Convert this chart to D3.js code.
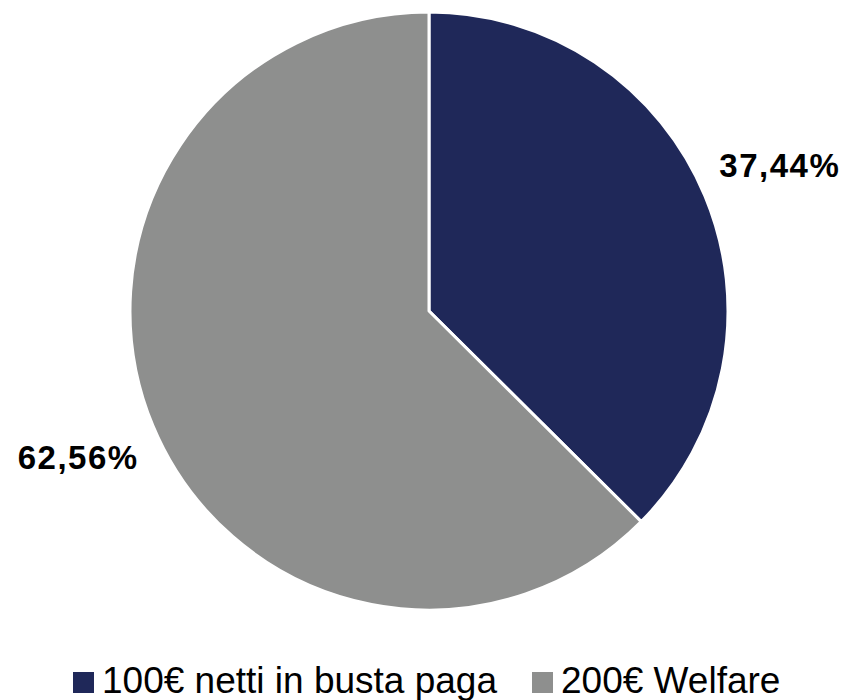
<!DOCTYPE html>
<html>
<head>
<meta charset="utf-8">
<script src="https://cdn.jsdelivr.net/npm/d3@7"></script>
<style>
  body { margin: 0; background: #fff; }
  text { font-family: "Liberation Sans", Arial, sans-serif; }
</style>
</head>
<body>
<svg id="vis" width="846" height="700"></svg>
<script>
const categories = ["100€ netti in busta paga", "200€ Welfare"];
const values = [37.44, 62.56];
const labels = ["37,44%", "62,56%"];
const colors = ["#1f2859", "#8e8f8e"];

const svg = d3.select("svg#vis");
const cx = 429, cy = 311, radius = 299;

const pie = d3.pie().sort(null).value(d => d);
const arc = d3.arc().innerRadius(0).outerRadius(radius);
const labelArc = d3.arc().innerRadius(380).outerRadius(380);

const color = d3.scaleOrdinal().domain(categories).range(colors);

const g = svg.append("g").attr("transform", translate(cx, cy));
const arcs = pie(values);

g.selectAll("path.slice")
  .data(arcs)
  .enter()
  .append("path")
  .attr("class", "slice")
  .attr("d", arc)
  .attr("fill", (d, i) => color(categories[i]))
  .attr("stroke", "#fff")
  .attr("stroke-width", 3)
  .attr("stroke-linejoin", "round");

g.selectAll("text.label")
  .data(arcs)
  .enter()
  .append("text")
  .attr("class", "label")
  .attr("transform", d => "translate(" + labelArc.centroid(d) + ")")
  .attr("text-anchor", "middle")
  .attr("dy", "0.36em")
  .style("font-size", "33px")
  .style("font-weight", "bold")
  .style("letter-spacing", "1.5px")
  .text((d, i) => labels[i]);

// legend
const legend = svg.append("g").attr("transform", translate(0, 693));
const items = [{x: 73, i: 0}, {x: 532, i: 1}];
items.forEach(function(it) {
  legend.append("rect")
    .attr("x", it.x)
    .attr("y", -21)
    .attr("width", 21)
    .attr("height", 21)
    .attr("fill", colors[it.i]);
  legend.append("text")
    .attr("x", it.x + 29)
    .attr("y", 0)
    .style("font-size", "37px")
    .text(categories[it.i]);
});

function translate(x, y) {
  return "translate(" + String(x) + "," + String(y) + ")";
}
</script>
</body>
</html>
